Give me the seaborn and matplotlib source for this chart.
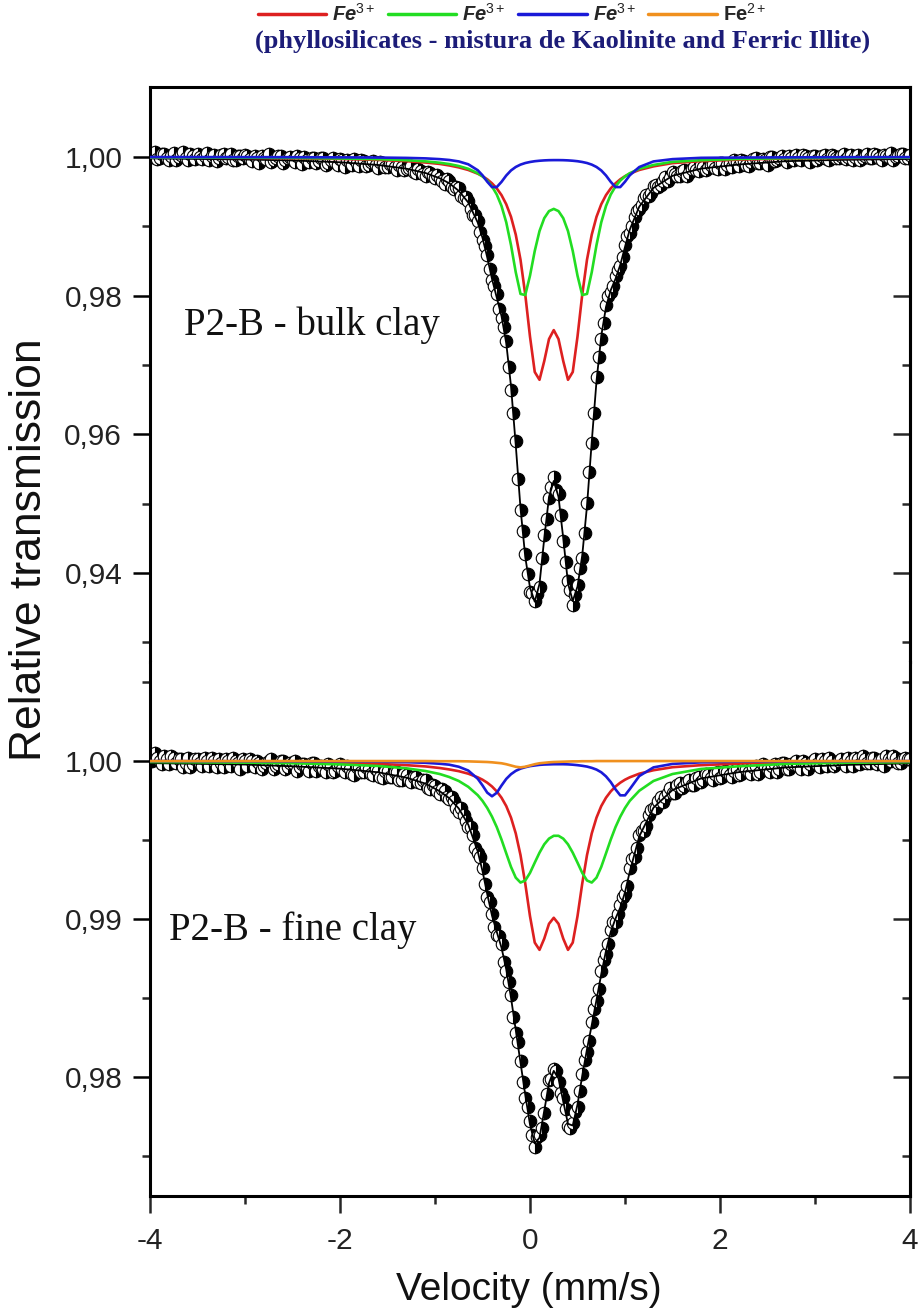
import matplotlib
matplotlib.use("Agg")
import matplotlib.pyplot as plt
import seaborn as sns
from matplotlib.lines import Line2D
from matplotlib.ticker import FixedLocator, FuncFormatter

sns.set_theme(style="ticks")
plt.rcParams["font.family"] = ["Liberation Sans", "DejaVu Sans"]
plt.rcParams["mathtext.fontset"] = "custom"
plt.rcParams["mathtext.rm"] = "Liberation Sans"
plt.rcParams["mathtext.it"] = "Liberation Sans:italic"
plt.rcParams["mathtext.bf"] = "Liberation Sans:bold"
plt.rcParams["axes.unicode_minus"] = False

# ---------------- data ----------------
velocity = [
    -4.000, -3.975, -3.950, -3.925, -3.900, -3.875, -3.850, -3.825, -3.800, -3.775,
    -3.750, -3.725, -3.700, -3.675, -3.650, -3.625, -3.600, -3.575, -3.550, -3.525,
    -3.500, -3.475, -3.450, -3.425, -3.400, -3.375, -3.350, -3.325, -3.300, -3.275,
    -3.250, -3.225, -3.200, -3.175, -3.150, -3.125, -3.100, -3.075, -3.050, -3.025,
    -3.000, -2.975, -2.950, -2.925, -2.900, -2.875, -2.850, -2.825, -2.800, -2.775,
    -2.750, -2.725, -2.700, -2.675, -2.650, -2.625, -2.600, -2.575, -2.550, -2.525,
    -2.500, -2.475, -2.450, -2.425, -2.400, -2.375, -2.350, -2.325, -2.300, -2.275,
    -2.250, -2.225, -2.200, -2.175, -2.150, -2.125, -2.100, -2.075, -2.050, -2.025,
    -2.000, -1.975, -1.950, -1.925, -1.900, -1.875, -1.850, -1.825, -1.800, -1.775,
    -1.750, -1.725, -1.700, -1.675, -1.650, -1.625, -1.600, -1.575, -1.550, -1.525,
    -1.500, -1.475, -1.450, -1.425, -1.400, -1.375, -1.350, -1.325, -1.300, -1.275,
    -1.250, -1.225, -1.200, -1.175, -1.150, -1.125, -1.100, -1.075, -1.050, -1.025,
    -1.000, -0.975, -0.950, -0.925, -0.900, -0.875, -0.850, -0.825, -0.800, -0.775,
    -0.750, -0.725, -0.700, -0.675, -0.650, -0.625, -0.600, -0.575, -0.550, -0.525,
    -0.500, -0.475, -0.450, -0.425, -0.400, -0.375, -0.350, -0.325, -0.300, -0.275,
    -0.250, -0.225, -0.200, -0.175, -0.150, -0.125, -0.100, -0.075, -0.050, -0.025,
    0.000, 0.025, 0.050, 0.075, 0.100, 0.125, 0.150, 0.175, 0.200, 0.225,
    0.250, 0.275, 0.300, 0.325, 0.350, 0.375, 0.400, 0.425, 0.450, 0.475,
    0.500, 0.525, 0.550, 0.575, 0.600, 0.625, 0.650, 0.675, 0.700, 0.725,
    0.750, 0.775, 0.800, 0.825, 0.850, 0.875, 0.900, 0.925, 0.950, 0.975,
    1.000, 1.025, 1.050, 1.075, 1.100, 1.125, 1.150, 1.175, 1.200, 1.225,
    1.250, 1.275, 1.300, 1.325, 1.350, 1.375, 1.400, 1.425, 1.450, 1.475,
    1.500, 1.525, 1.550, 1.575, 1.600, 1.625, 1.650, 1.675, 1.700, 1.725,
    1.750, 1.775, 1.800, 1.825, 1.850, 1.875, 1.900, 1.925, 1.950, 1.975,
    2.000, 2.025, 2.050, 2.075, 2.100, 2.125, 2.150, 2.175, 2.200, 2.225,
    2.250, 2.275, 2.300, 2.325, 2.350, 2.375, 2.400, 2.425, 2.450, 2.475,
    2.500, 2.525, 2.550, 2.575, 2.600, 2.625, 2.650, 2.675, 2.700, 2.725,
    2.750, 2.775, 2.800, 2.825, 2.850, 2.875, 2.900, 2.925, 2.950, 2.975,
    3.000, 3.025, 3.050, 3.075, 3.100, 3.125, 3.150, 3.175, 3.200, 3.225,
    3.250, 3.275, 3.300, 3.325, 3.350, 3.375, 3.400, 3.425, 3.450, 3.475,
    3.500, 3.525, 3.550, 3.575, 3.600, 3.625, 3.650, 3.675, 3.700, 3.725,
    3.750, 3.775, 3.800, 3.825, 3.850, 3.875, 3.900, 3.925, 3.950, 3.975,
    4.000,
]

bulk_transmission = [
    1.0003, 1.0000, 1.0007, 0.9997, 0.9999, 1.0005, 1.0004, 0.9999, 0.9996, 1.0002,
    1.0006, 0.9996, 1.0000, 1.0003, 1.0007, 0.9999, 0.9996, 1.0005, 1.0002, 0.9997,
    1.0004, 1.0000, 0.9997, 1.0002, 1.0006, 0.9995, 1.0001, 1.0003, 0.9994, 0.9998,
    1.0003, 1.0004, 0.9999, 1.0000, 1.0005, 0.9996, 0.9995, 1.0002, 1.0001, 0.9998,
    1.0003, 1.0002, 0.9997, 0.9994, 1.0001, 0.9999, 0.9992, 1.0002, 0.9999, 0.9997,
    1.0004, 0.9993, 0.9996, 0.9999, 1.0001, 1.0002, 0.9992, 0.9995, 0.9999, 1.0000,
    0.9996, 0.9993, 1.0002, 0.9998, 0.9990, 1.0000, 0.9996, 0.9993, 0.9999, 0.9998,
    0.9992, 0.9994, 0.9999, 0.9998, 0.9989, 0.9991, 0.9996, 0.9999, 0.9993, 0.9989,
    0.9997, 0.9995, 0.9986, 0.9996, 0.9993, 0.9989, 0.9997, 0.9992, 0.9987, 0.9996,
    0.9994, 0.9987, 0.9989, 0.9993, 0.9994, 0.9989, 0.9984, 0.9993, 0.9991, 0.9985,
    0.9985, 0.9990, 0.9990, 0.9985, 0.9981, 0.9989, 0.9986, 0.9981, 0.9982, 0.9984,
    0.9987, 0.9979, 0.9977, 0.9983, 0.9980, 0.9975, 0.9973, 0.9978, 0.9977, 0.9972,
    0.9970, 0.9974, 0.9970, 0.9966, 0.9961, 0.9968, 0.9965, 0.9957, 0.9954, 0.9956,
    0.9955, 0.9944, 0.9941, 0.9942, 0.9937, 0.9925, 0.9916, 0.9916, 0.9907, 0.9892,
    0.9880, 0.9872, 0.9859, 0.9838, 0.9822, 0.9814, 0.9802, 0.9781, 0.9767, 0.9755,
    0.9734, 0.9697, 0.9664, 0.9631, 0.9590, 0.9535, 0.9490, 0.9461, 0.9427, 0.9398,
    0.9373, 0.9371, 0.9360, 0.9369, 0.9379, 0.9421, 0.9454, 0.9477, 0.9508, 0.9524,
    0.9538, 0.9519, 0.9513, 0.9483, 0.9446, 0.9415, 0.9388, 0.9375, 0.9354, 0.9368,
    0.9382, 0.9407, 0.9422, 0.9458, 0.9501, 0.9546, 0.9587, 0.9630, 0.9682, 0.9711,
    0.9738, 0.9760, 0.9787, 0.9799, 0.9805, 0.9814, 0.9828, 0.9837, 0.9842, 0.9855,
    0.9873, 0.9886, 0.9891, 0.9900, 0.9914, 0.9922, 0.9925, 0.9931, 0.9941, 0.9945,
    0.9944, 0.9948, 0.9958, 0.9960, 0.9956, 0.9959, 0.9966, 0.9971, 0.9966, 0.9969,
    0.9978, 0.9975, 0.9973, 0.9973, 0.9980, 0.9981, 0.9973, 0.9977, 0.9983, 0.9986,
    0.9981, 0.9980, 0.9989, 0.9986, 0.9981, 0.9984, 0.9989, 0.9990, 0.9984, 0.9983,
    0.9991, 0.9991, 0.9983, 0.9989, 0.9991, 0.9986, 0.9996, 0.9993, 0.9987, 0.9996,
    0.9994, 0.9989, 0.9987, 0.9993, 0.9997, 0.9998, 0.9992, 0.9991, 0.9997, 0.9996,
    0.9989, 1.0000, 1.0000, 0.9994, 0.9995, 0.9998, 1.0002, 0.9997, 0.9993, 1.0001,
    0.9999, 0.9995, 1.0003, 0.9999, 0.9996, 1.0003, 1.0001, 0.9998, 0.9993, 1.0001,
    1.0002, 0.9995, 0.9998, 1.0001, 1.0003, 0.9997, 0.9995, 1.0003, 1.0002, 0.9999,
    0.9998, 1.0002, 1.0005, 0.9997, 1.0000, 1.0003, 0.9995, 1.0000, 1.0003, 0.9995,
    0.9999, 1.0002, 1.0004, 0.9998, 0.9999, 1.0005, 1.0003, 0.9998, 0.9995, 1.0003,
    1.0002, 1.0000, 1.0006, 0.9996, 1.0000, 1.0002, 1.0004, 1.0005, 0.9998, 0.9999,
    1.0003,
]

fine_transmission = [
    1.0002, 1.0000, 1.0005, 1.0002, 1.0000, 0.9998, 1.0003, 1.0001, 0.9998, 1.0003,
    1.0002, 0.9999, 1.0001, 1.0001, 0.9996, 0.9999, 1.0002, 0.9996, 0.9998, 1.0001,
    1.0001, 0.9999, 0.9997, 1.0002, 1.0000, 0.9997, 1.0002, 1.0000, 0.9996, 1.0001,
    0.9999, 0.9996, 1.0001, 1.0000, 0.9997, 1.0002, 1.0000, 0.9999, 0.9995, 1.0001,
    1.0000, 0.9997, 1.0001, 1.0000, 0.9996, 1.0000, 0.9999, 0.9995, 0.9997, 0.9999,
    1.0000, 1.0001, 0.9995, 0.9997, 0.9998, 1.0000, 1.0000, 0.9995, 0.9996, 0.9999,
    0.9999, 1.0000, 0.9994, 0.9996, 0.9998, 0.9998, 0.9996, 0.9994, 0.9999, 0.9999,
    0.9994, 0.9997, 0.9997, 0.9995, 0.9993, 0.9998, 0.9997, 0.9993, 0.9994, 0.9997,
    0.9998, 0.9995, 0.9993, 0.9997, 0.9995, 0.9992, 0.9991, 0.9996, 0.9996, 0.9993,
    0.9993, 0.9996, 0.9995, 0.9992, 0.9991, 0.9995, 0.9994, 0.9990, 0.9989, 0.9994,
    0.9994, 0.9990, 0.9990, 0.9993, 0.9993, 0.9988, 0.9988, 0.9992, 0.9991, 0.9988,
    0.9987, 0.9990, 0.9990, 0.9987, 0.9986, 0.9988, 0.9988, 0.9983, 0.9982, 0.9985,
    0.9984, 0.9981, 0.9979, 0.9982, 0.9981, 0.9977, 0.9976, 0.9977, 0.9975, 0.9970,
    0.9968, 0.9970, 0.9966, 0.9962, 0.9958, 0.9958, 0.9953, 0.9945, 0.9942, 0.9939,
    0.9932, 0.9922, 0.9914, 0.9911, 0.9903, 0.9895, 0.9890, 0.9889, 0.9884, 0.9873,
    0.9867, 0.9860, 0.9852, 0.9838, 0.9828, 0.9822, 0.9810, 0.9797, 0.9787, 0.9781,
    0.9772, 0.9763, 0.9756, 0.9762, 0.9763, 0.9768, 0.9777, 0.9789, 0.9798, 0.9799,
    0.9805, 0.9804, 0.9797, 0.9790, 0.9787, 0.9780, 0.9769, 0.9768, 0.9771, 0.9778,
    0.9781, 0.9791, 0.9802, 0.9811, 0.9816, 0.9823, 0.9835, 0.9843, 0.9848, 0.9856,
    0.9867, 0.9874, 0.9878, 0.9884, 0.9893, 0.9898, 0.9898, 0.9903, 0.9909, 0.9914,
    0.9916, 0.9921, 0.9932, 0.9938, 0.9939, 0.9945, 0.9953, 0.9956, 0.9956, 0.9959,
    0.9966, 0.9969, 0.9970, 0.9970, 0.9975, 0.9977, 0.9974, 0.9977, 0.9980, 0.9983,
    0.9980, 0.9980, 0.9985, 0.9986, 0.9983, 0.9984, 0.9987, 0.9988, 0.9985, 0.9985,
    0.9989, 0.9990, 0.9987, 0.9988, 0.9992, 0.9991, 0.9989, 0.9988, 0.9992, 0.9993,
    0.9989, 0.9990, 0.9994, 0.9993, 0.9991, 0.9990, 0.9994, 0.9995, 0.9991, 0.9992,
    0.9996, 0.9995, 0.9993, 0.9992, 0.9996, 0.9997, 0.9992, 0.9993, 0.9998, 0.9997,
    0.9995, 0.9993, 0.9997, 0.9998, 0.9993, 0.9995, 0.9999, 0.9999, 0.9995, 0.9995,
    0.9998, 0.9998, 1.0000, 0.9997, 0.9995, 1.0000, 0.9999, 0.9995, 0.9998, 1.0000,
    1.0001, 0.9998, 0.9996, 1.0001, 1.0000, 0.9997, 1.0002, 1.0000, 0.9997, 0.9998,
    1.0000, 1.0001, 0.9999, 0.9997, 1.0002, 1.0000, 0.9997, 1.0002, 1.0001, 0.9998,
    1.0003, 1.0001, 0.9999, 0.9999, 1.0002, 1.0002, 0.9998, 1.0000, 1.0001, 0.9997,
    1.0003, 1.0001, 1.0000, 1.0003, 1.0002, 0.9999, 0.9999, 1.0001, 1.0002, 1.0001,
    1.0001,
]

fit_velocity = [
    -4.0, -3.0, -2.5, -2.0, -1.6, -1.3, -1.1, -0.95, -0.85, -0.75, -0.65,
    -0.55, -0.5, -0.45, -0.4, -0.35, -0.3, -0.25, -0.2, -0.15, -0.1, -0.05,
    0.0, 0.05, 0.1, 0.15, 0.2, 0.25, 0.3, 0.35, 0.4, 0.45, 0.5,
    0.55, 0.6, 0.65, 0.7, 0.75, 0.8, 0.85, 0.9, 0.95, 1.0, 1.05,
    1.15, 1.3, 1.5, 1.8, 2.2, 2.7, 3.3, 4.0,
]

# bulk clay: total fit and sub-spectra
bulk_fit = [
    0.9998, 0.99964, 0.9995, 0.99924, 0.99885, 0.99831, 0.99769, 0.99693, 0.99621, 0.99512, 0.99344,
    0.99054, 0.98834, 0.98552, 0.98241, 0.97972, 0.97705, 0.97313, 0.96694, 0.95844, 0.94933, 0.9423,
    0.93786, 0.93583, 0.9384, 0.94495, 0.95095, 0.95325, 0.95097, 0.94499, 0.93847, 0.93593, 0.93802,
    0.94252, 0.94966, 0.95892, 0.96765, 0.97417, 0.97836, 0.98079, 0.98241, 0.98442, 0.98702, 0.98951,
    0.99283, 0.99554, 0.99729, 0.99832, 0.99892, 0.9994, 0.99959, 0.99972,
]
bulk_fe3_a = [
    0.99992, 0.99987, 0.99981, 0.99972, 0.99958, 0.9994, 0.9992, 0.9990, 0.99878, 0.9985, 0.99813,
    0.99759, 0.99723, 0.99678, 0.9962, 0.99547, 0.9945, 0.99318, 0.99137, 0.9888, 0.98518, 0.98016,
    0.97408, 0.96898, 0.96785, 0.97055, 0.97373, 0.97502, 0.97373, 0.97055, 0.96785, 0.96898, 0.97408,
    0.98016, 0.98518, 0.9888, 0.99137, 0.99318, 0.9945, 0.99547, 0.9962, 0.99678, 0.99723, 0.99759,
    0.99813, 0.99865, 0.99912, 0.9994, 0.99962, 0.99978, 0.99985, 0.9999,
]
bulk_fe3_b = [
    0.99994, 0.9999, 0.99987, 0.99979, 0.99969, 0.99954, 0.99937, 0.99917, 0.99898, 0.9987, 0.9983,
    0.99766, 0.9972, 0.99659, 0.99575, 0.99459, 0.99293, 0.99057, 0.98729, 0.98337, 0.98024, 0.98008,
    0.98288, 0.98644, 0.98931, 0.99117, 0.99219, 0.99251, 0.99219, 0.99117, 0.98931, 0.98644, 0.98288,
    0.98008, 0.98024, 0.98337, 0.98729, 0.99057, 0.99293, 0.99459, 0.99575, 0.99659, 0.9972, 0.99766,
    0.9983, 0.99885, 0.9993, 0.99954, 0.99972, 0.99983, 0.99989, 0.99992,
]
bulk_fe3_c = [
    0.99999, 0.99998, 0.99997, 0.99995, 0.99992, 0.99987, 0.9998, 0.99969, 0.99957, 0.99936, 0.99895,
    0.99809, 0.99736, 0.99643, 0.99566, 0.99566, 0.99641, 0.99733, 0.99806, 0.99856, 0.9989, 0.99913,
    0.99928, 0.99939, 0.99946, 0.99951, 0.99954, 0.99955, 0.99955, 0.99954, 0.99951, 0.99946, 0.99939,
    0.99928, 0.99913, 0.9989, 0.99856, 0.99806, 0.99733, 0.99641, 0.99566, 0.99566, 0.99643, 0.99736,
    0.99855, 0.99936, 0.99969, 0.99988, 0.99992, 0.99995, 0.99997, 0.99998,
]

# fine clay: total fit and sub-spectra
fine_fit = [
    0.99987, 0.99978, 0.99967, 0.99952, 0.99929, 0.99895, 0.99857, 0.99809, 0.99765, 0.997, 0.99598,
    0.99428, 0.99304, 0.99158, 0.99022, 0.98919, 0.98819, 0.98682, 0.98502, 0.98298, 0.98091, 0.97888,
    0.97699, 0.9758, 0.97616, 0.97786, 0.97962, 0.98039, 0.97991, 0.97845, 0.97704, 0.97693, 0.97826,
    0.98008, 0.98176, 0.98329, 0.98488, 0.98651, 0.98799, 0.98919, 0.99003, 0.99072, 0.99169, 0.99299,
    0.99523, 0.99705, 0.99817, 0.9989, 0.9993, 0.9996, 0.99975, 0.99986,
]
fine_fe3_a = [
    0.99997, 0.99994, 0.99992, 0.99988, 0.99982, 0.99974, 0.99966, 0.99956, 0.99947, 0.99936, 0.9992,
    0.99897, 0.99882, 0.99863, 0.99839, 0.99808, 0.99768, 0.99715, 0.99642, 0.99542, 0.99405, 0.99225,
    0.99018, 0.98851, 0.98805, 0.98876, 0.9897, 0.99008, 0.9897, 0.98876, 0.98805, 0.98851, 0.99018,
    0.99225, 0.99405, 0.99542, 0.99642, 0.99715, 0.99768, 0.99808, 0.99839, 0.99863, 0.99882, 0.99897,
    0.9992, 0.99942, 0.99961, 0.99974, 0.99984, 0.9999, 0.99993, 0.99996,
]
fine_fe3_b = [
    0.99994, 0.9999, 0.99986, 0.99979, 0.99969, 0.99954, 0.99937, 0.99918, 0.99899, 0.99874, 0.99837,
    0.99784, 0.99748, 0.99703, 0.99648, 0.99582, 0.99503, 0.99416, 0.9933, 0.99262, 0.99231, 0.99244,
    0.99292, 0.99357, 0.9942, 0.99473, 0.99509, 0.99527, 0.99527, 0.99509, 0.99473, 0.9942, 0.99357,
    0.99292, 0.99244, 0.99231, 0.99262, 0.9933, 0.99416, 0.99503, 0.99582, 0.99648, 0.99703, 0.99748,
    0.99812, 0.99874, 0.99918, 0.9995, 0.99967, 0.99982, 0.99989, 0.99993,
]
fine_fe3_c = [
    1.0, 0.99999, 0.99998, 0.99998, 0.99996, 0.99993, 0.99989, 0.99983, 0.99977, 0.99964, 0.9994,
    0.99888, 0.99846, 0.998, 0.99777, 0.99799, 0.99845, 0.99887, 0.99917, 0.99938, 0.99952, 0.99961,
    0.99968, 0.99972, 0.99976, 0.99978, 0.99979, 0.9998, 0.9998, 0.9998, 0.99979, 0.99977, 0.99974,
    0.9997, 0.99965, 0.99957, 0.99946, 0.99929, 0.99903, 0.99867, 0.99821, 0.99783, 0.99783, 0.99822,
    0.99905, 0.9996, 0.99982, 0.99992, 0.99996, 0.99998, 0.99999, 1.0,
]
fine_fe2 = [
    1.0, 1.0, 1.0, 1.0, 1.0, 1.0, 1.0, 0.99999, 0.99999, 0.99999, 0.99998,
    0.99996, 0.99995, 0.99994, 0.99992, 0.99989, 0.99986, 0.9998, 0.99972, 0.99964, 0.9996, 0.99964,
    0.99972, 0.9998, 0.99986, 0.99989, 0.99992, 0.99994, 0.99995, 0.99996, 0.99997, 0.99998, 0.99998,
    0.99999, 0.99999, 0.99999, 1.0, 1.0, 1.0, 1.0, 1.0, 1.0, 1.0, 1.0,
    1.0, 1.0, 1.0, 1.0, 1.0, 1.0, 1.0, 1.0,
]

legend_labels = ["Fe$^{3+}$", "Fe$^{3+}$", "Fe$^{3+}$", "Fe$^{2+}$"]
colors = ["#dd2020", "#22dd22", "#1a1ad8", "#f0901e"]
subtitle = "(phyllosilicates - mistura de Kaolinite and Ferric Illite)"
sample_labels = ["P2-B - bulk clay", "P2-B - fine clay"]

# ---------------- layout ----------------
W, H = 919, 1313
fig = plt.figure(figsize=(W / 100, H / 100), dpi=100)
x0, x1 = 150 / W, 910 / W
ax_top = fig.add_axes([x0, 1 - 662 / H, x1 - x0, (662 - 87) / H])
ax_bot = fig.add_axes([x0, 1 - 1196 / H, x1 - x0, (1196 - 662) / H])

comma_fmt = FuncFormatter(lambda v, p: f"{v:.2f}".replace(".", ","))


def draw_panel(ax, data_y, fit_y, comps, comp_colors):
    sns.lineplot(x=velocity, y=data_y, ax=ax, estimator=None, sort=False,
                 linestyle="none", marker="o", markersize=9, fillstyle="right",
                 markerfacecolor="black", markerfacecoloralt="white",
                 markeredgecolor="black", markeredgewidth=0.8, color="black",
                 zorder=2)
    sns.lineplot(x=fit_velocity, y=fit_y, ax=ax, estimator=None, sort=False,
                 color="black", linewidth=1.3, zorder=3)
    for cy, cc in zip(comps, comp_colors):
        sns.lineplot(x=fit_velocity, y=cy, ax=ax, estimator=None, sort=False,
                     color=cc, linewidth=1.9, zorder=4)


draw_panel(ax_top, bulk_transmission, bulk_fit,
           [bulk_fe3_a, bulk_fe3_b, bulk_fe3_c], colors[:3])
draw_panel(ax_bot, fine_transmission, fine_fit,
           [fine_fe3_a, fine_fe3_b, fine_fe3_c, fine_fe2], colors)

spine_w = 2.2
tick_w = 1.8


def style_axis(ax, ylim, majors, minors, show_x):
    ax.set_xlim(-4, 4)
    ax.set_ylim(*ylim)
    ax.set_xlabel("")
    ax.set_ylabel("")
    ax.yaxis.set_major_locator(FixedLocator(majors))
    ax.yaxis.set_minor_locator(FixedLocator(minors))
    ax.yaxis.set_major_formatter(comma_fmt)
    ax.tick_params(axis="y", which="major", direction="out", length=12,
                   width=tick_w, labelsize=21.5, pad=8, left=True, right=False,
                   colors="black", labelcolor="#222222")
    ax.tick_params(axis="y", which="minor", direction="out", length=6,
                   width=tick_w, left=True, right=False)
    for s in ax.spines.values():
        s.set_linewidth(spine_w)
        s.set_color("black")
    sec = ax.secondary_yaxis("right")
    sec.yaxis.set_major_locator(FixedLocator(majors))
    sec.yaxis.set_minor_locator(FixedLocator(minors))
    sec.tick_params(axis="y", which="major", direction="in", length=12,
                    width=tick_w, labelright=False)
    sec.tick_params(axis="y", which="minor", direction="in", length=6,
                    width=tick_w, labelright=False)
    sec.spines["right"].set_linewidth(spine_w)
    if show_x:
        ax.xaxis.set_major_locator(FixedLocator([-4, -2, 0, 2, 4]))
        ax.xaxis.set_minor_locator(FixedLocator([-3, -1, 1, 3]))
        ax.xaxis.set_major_formatter(FuncFormatter(lambda v, p: f"{v:.0f}"))
        ax.tick_params(axis="x", which="major", direction="out", length=12,
                       width=tick_w, labelsize=21.5, pad=10, bottom=True,
                       top=False, labelcolor="#222222")
        ax.tick_params(axis="x", which="minor", direction="out", length=6,
                       width=tick_w, bottom=True, top=False)
    else:
        ax.tick_params(axis="x", which="both", bottom=False, top=False,
                       labelbottom=False)


style_axis(ax_top, (0.92713, 1.0101), [0.94, 0.96, 0.98, 1.00],
           [0.93, 0.95, 0.97, 0.99], False)
style_axis(ax_bot, (0.97247, 1.00627), [0.98, 0.99, 1.00],
           [0.975, 0.985, 0.995, 1.005], True)
ax_top.spines["bottom"].set_visible(False)
ax_bot.spines["top"].set_visible(False)

ax_top.text(-3.64, 0.9757, sample_labels[0], family="Liberation Serif",
            fontsize=28, ha="left", va="center", color="#111111")
ax_bot.text(-3.80, 0.9893, sample_labels[1], family="Liberation Serif",
            fontsize=28, ha="left", va="center", color="#111111")

fig.text(30 / W, 1 - 550 / H, "Relative transmission", rotation=90,
         ha="center", va="center", fontsize=32, color="#111111")
fig.text(529 / W, 1 - 1290 / H, "Velocity (mm/s)", ha="center", va="center",
         fontsize=28, color="#111111")

handles = [Line2D([0], [0], color=c, lw=2.5) for c in colors]
leg = fig.legend(handles, legend_labels, loc="center",
                 bbox_to_anchor=(512 / W, 1 - 14 / H), ncol=4, frameon=False,
                 fontsize=14.5, handlelength=3.4, handletextpad=0.3,
                 columnspacing=0.6, borderpad=0, borderaxespad=0)
for i, t in enumerate(leg.get_texts()):
    t.set_fontweight("bold")
    if i < 3:
        t.set_fontstyle("italic")

fig.text(563 / W, 1 - 41 / H, subtitle, family="Liberation Serif",
         weight="bold", color="#1c1c78", fontsize=19, ha="center",
         va="center")

fig.savefig("out.png", dpi=100)
